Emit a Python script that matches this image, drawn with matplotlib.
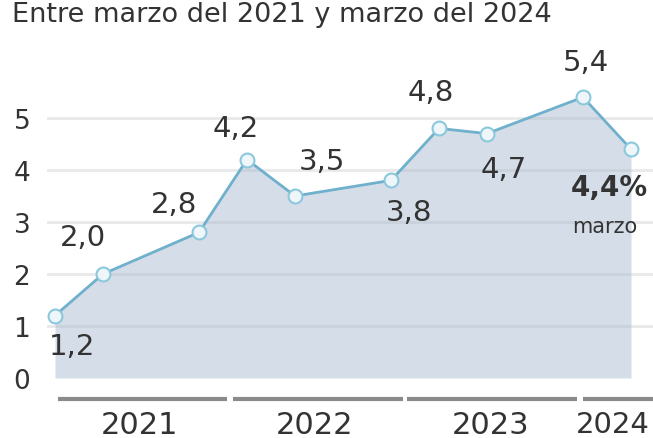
import numpy as np
import matplotlib
matplotlib.use("Agg")
import matplotlib.pyplot as plt
from matplotlib.transforms import blended_transform_factory

# data: months counted from March 2021
months = [0, 3, 9, 12, 15, 21, 24, 27, 33, 36]
values = [1.2, 2.0, 2.8, 4.2, 3.5, 3.8, 4.8, 4.7, 5.4, 4.4]
years = ["2021", "2022", "2023", "2024"]
year_spans = [(0.2, 10.75), (11.1, 21.75), (22.0, 32.6), (33.0, 38.0)]
year_label_x = [5.3, 16.25, 27.2, 37.2]
year_label_ha = ["center", "center", "center", "right"]
yticks = [0, 1, 2, 3, 4, 5]
title = "Entre marzo del 2021 y marzo del 2024"
last_note = "marzo"

# label offsets in pixels (dx, dy) from each point
offsets = [(17, -30), (-20, 37), (-25, 28), (-11, 32), (27, 35),
           (18, -32), (-8, 36), (17, -35), (3, 35), (-60, -38)]

txt = "#333333"
plt.rcParams['font.family'] = ['DejaVu Sans']

fig = plt.figure(figsize=(6.53, 4.39), dpi=100)
ax = fig.add_axes([47 / 653, 60 / 439, 1 - 47 / 653, 379 / 439])

ax.fill_between(months, values, 0, color="#d5dee8", zorder=1, linewidth=0)
ax.plot(months, values, color="#6fb0cc", linewidth=2, zorder=3,
        marker="o", markersize=10, markerfacecolor="#eef6fa",
        markeredgecolor="#8cc8dc", markeredgewidth=1.5)

ax.set_xlim(-0.5, 37.375)
ax.set_ylim(0, 379 / 52)
ax.set_yticks(yticks)
ax.set_yticklabels([str(t) for t in yticks])
ax.set_xticks([])
ax.tick_params(axis="y", length=0, pad=12, labelsize=19, labelcolor=txt)
for s in ax.spines.values():
    s.set_visible(False)
for t in yticks[1:]:
    ax.axhline(t, color="#b0b8c0", alpha=0.3, linewidth=2, zorder=2)

for i, (m, v) in enumerate(zip(months, values)):
    lab = f"{v:.1f}".replace(".", ",")
    if i == len(values) - 1:
        ax.annotate(lab + "%", (m, v), xytext=offsets[i], textcoords="offset pixels",
                    ha="left", va="center", fontsize=20, fontweight="bold",
                    color=txt, annotation_clip=False)
        ax.annotate(last_note, (m, v), xytext=(-26, -77),
                    textcoords="offset pixels", ha="center", va="center",
                    fontsize=15, color=txt, annotation_clip=False)
    else:
        ax.annotate(lab, (m, v), xytext=offsets[i], textcoords="offset pixels",
                    ha="center", va="center", fontsize=21, color=txt)

tr = blended_transform_factory(ax.transData, fig.transFigure)
for yr, (a, b), lx, ha in zip(years, year_spans, year_label_x, year_label_ha):
    ax.plot([a, b], [1 - 400 / 439] * 2, color="#8a8a8a", linewidth=3,
            transform=tr, clip_on=False, solid_capstyle="butt")
    ax.text(lx, 1 - 411 / 439, yr, transform=tr, ha=ha, va="top",
            fontsize=22 if ha == "center" else 21, color=txt)

fig.text(12 / 653, 1 - 22 / 439, title, ha="left", va="baseline",
         fontsize=19.5, color=txt)

fig.savefig("out.png", dpi=100)
